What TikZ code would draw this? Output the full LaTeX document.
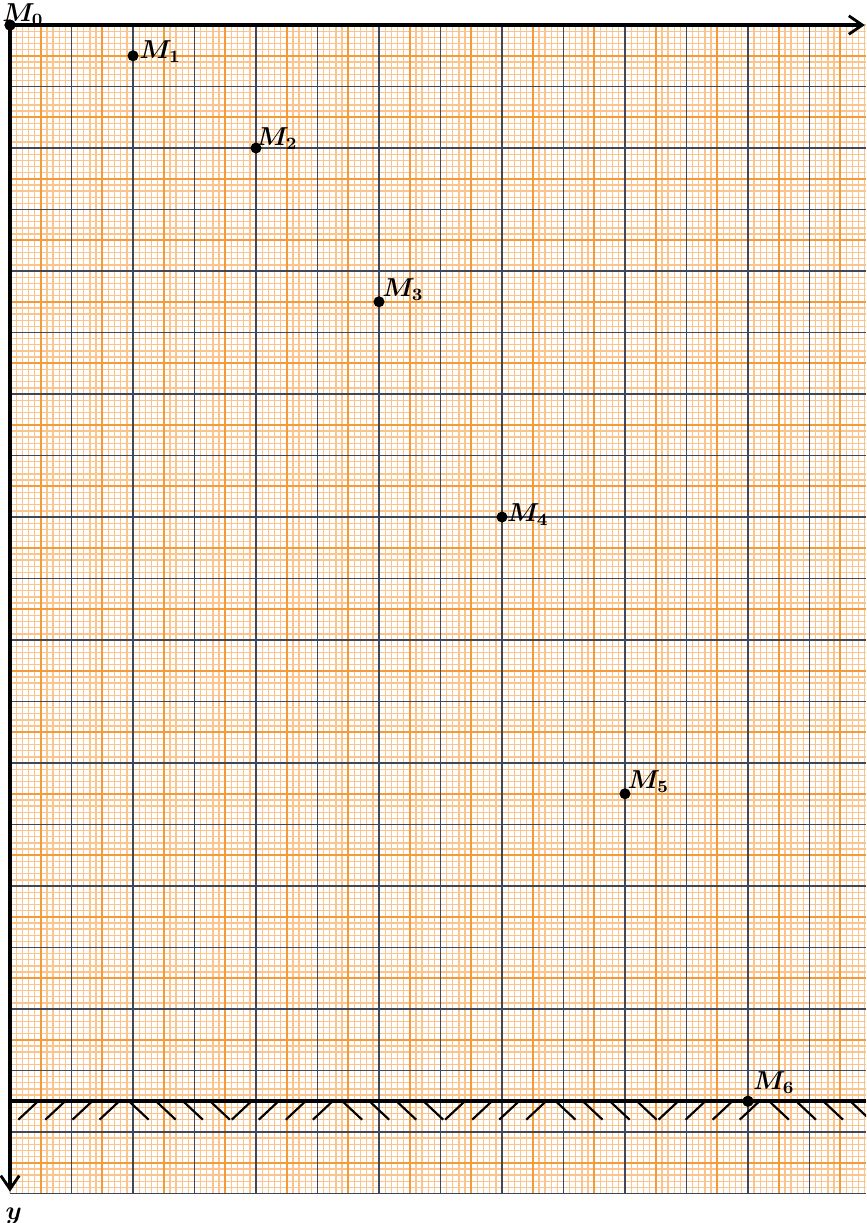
\documentclass[tikz,border=0pt]{standalone}
\usepackage{amssymb,amsmath}
\usepackage{tikz}
\usetikzlibrary{arrows.meta}

\definecolor{gridfine}{HTML}{FAC48C}
\definecolor{gridmid}{HTML}{F59A38}
\definecolor{griddark}{HTML}{414755}

\tikzset{
    fineline/.style={gridfine, line width=0.6pt},
    midline/.style={gridmid, line width=0.9pt},
    darkline/.style={griddark, line width=0.75pt},
    axisline/.style={black, line width=1.5pt, -{Straight Barb[length=2.2mm,width=3mm,line width=1.3pt]}},
    groundline/.style={black, line width=1.9pt},
    hatchline/.style={black, line width=1pt},
    point/.style={circle, fill=black, inner sep=0pt, minimum size=1.8mm},
    pointlabel/.style={anchor=south west, inner sep=0.5pt, font=\fontsize{11.5}{13}\selectfont}
}

\begin{document}
\begin{tikzpicture}[y=-1cm]
    \useasboundingbox (-0.163,-0.407) rectangle (13.92,19.48);
    \clip (-0.163,-0.407) rectangle (13.92,19.48);

    \foreach \i in {0,...,139}{
        \draw[fineline] (\i/10,0) -- (\i/10,19);
    }
    \foreach \j in {0,...,190}{
        \draw[fineline] (0,\j/10) -- (13.92,\j/10);
    }
    \foreach \i in {0,...,13}{
        \draw[midline] (\i+0.5,0) -- (\i+0.5,19);
    }
    \foreach \j in {0,...,18}{
        \draw[midline] (0,\j+0.5) -- (13.92,\j+0.5);
    }
    \foreach \i in {1,...,13}{
        \draw[darkline] (\i,0) -- (\i,19);
    }
    \foreach \j in {1,...,19}{
        \draw[darkline] (0,\j) -- (13.92,\j);
    }

    \coordinate (xend) at (13.9,0);
    \coordinate (yend) at (0,18.97);
    \coordinate (gleft) at (0,17.5);
    \coordinate (gright) at (13.92,17.5);

    \node[point] (M0) at (0,0) {};
    \node[point] (M1) at (2,0.5) {};
    \node[point] (M2) at (4,2) {};
    \node[point] (M3) at (6,4.5) {};
    \node[point] (M4) at (8,8) {};
    \node[point] (M5) at (10,12.5) {};
    \node[point] (M6) at (12,17.5) {};

    \draw[axisline] (M0.center) -- (xend);
    \draw[axisline] (M0.center) -- (yend);
    \draw[groundline] (gleft) -- (gright);

    \foreach \k in {0,...,3}{
        \foreach \i in {0,...,3}{
            \draw[hatchline] ({0.455+3.47*\k+0.44*\i},17.5) -- ++(-0.32,0.3);
            \draw[hatchline] ({1.935+3.47*\k+0.44*\i},17.5) -- ++(0.32,0.3);
        }
    }

    \node[point] at (M0) {};
    \node[point] at (M6) {};

    \node[pointlabel, xshift=-1.5mm, yshift=-0.3mm] (l0) at (M0) {$\boldsymbol{M_0}$};
    \node[pointlabel, xshift=0.8mm, yshift=-1.4mm] (l1) at (M1) {$\boldsymbol{M_1}$};
    \node[pointlabel, xshift=-0.2mm, yshift=-0.5mm] (l2) at (M2) {$\boldsymbol{M_2}$};
    \node[pointlabel, xshift=0.3mm] (l3) at (M3) {$\boldsymbol{M_3}$};
    \node[pointlabel, xshift=0.6mm, yshift=-1.6mm] (l4) at (M4) {$\boldsymbol{M_4}$};
    \node[pointlabel, xshift=0.2mm] (l5) at (M5) {$\boldsymbol{M_5}$};
    \node[pointlabel, xshift=0.6mm, yshift=1mm] (l6) at (M6) {$\boldsymbol{M_6}$};
    \node[anchor=north, inner sep=0.5pt, font=\fontsize{11.5}{13}\selectfont, xshift=0.6mm, yshift=-2.4mm] (ylab) at (yend) {$\boldsymbol{y}$};
\end{tikzpicture}
\end{document}
